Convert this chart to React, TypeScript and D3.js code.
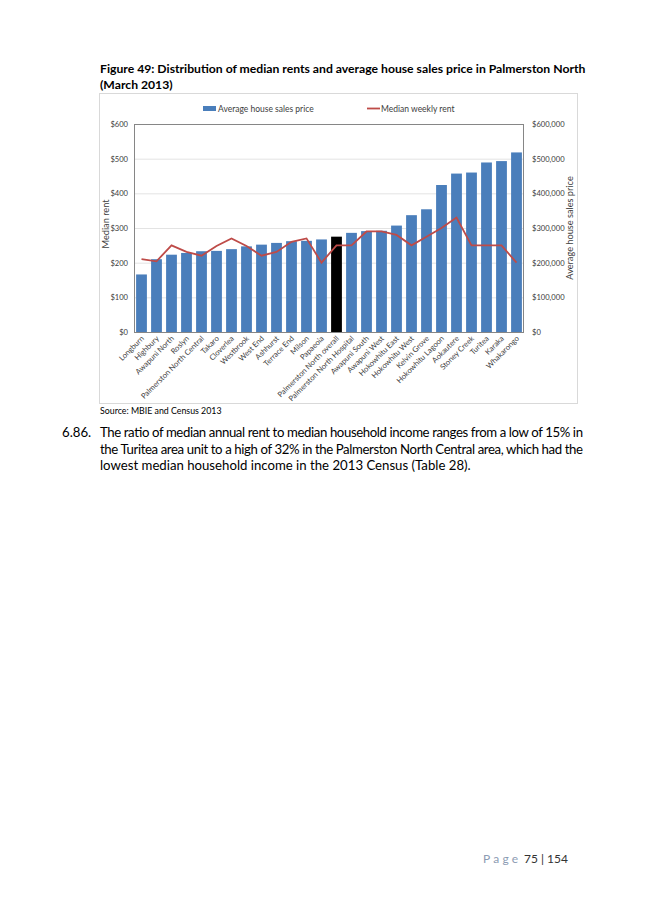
import React, { useRef, useEffect } from 'react';
import * as d3 from 'd3';

const areas = [
  'Longburn', 'Highbury', 'Awapuni North', 'Roslyn', 'Palmerston North Central',
  'Takaro', 'Cloverlea', 'Westbrook', 'West End', 'Ashhurst', 'Terrace End',
  'Milson', 'Papaeoia', 'Palmerston North overall', 'Palmerston North Hospital',
  'Awapuni South', 'Awapuni West', 'Hokowhitu East', 'Hokowhitu West',
  'Kelvin Grove', 'Hokowhitu Lagoon', 'Aokautere', 'Stoney Creek', 'Turitea',
  'Karaka', 'Whakarongo',
];

// average house sales price ($)
const housePrice = [
  166000, 210000, 223000, 228000, 233000, 234000, 239000, 247000, 252000,
  257000, 262000, 263000, 267000, 275000, 286000, 291000, 292000, 307000,
  337000, 354000, 424000, 457000, 460000, 489000, 493000, 518000,
];

// median weekly rent ($)
const medianRent = [
  210, 204, 250, 231, 220, 248, 270, 248, 220, 231, 260, 270, 200, 250, 250,
  290, 290, 280, 250, 275, 300, 330, 250, 250, 250, 200,
];

const rentTicks = [0, 100, 200, 300, 400, 500, 600];
const priceTicks = [0, 100000, 200000, 300000, 400000, 500000, 600000];

const paragraph = [
  'The ratio of median annual rent to median household income ranges from a low of 15% in',
  'the Turitea area unit to a high of 32% in the Palmerston North Central area, which had the',
  'lowest median household income in the 2013 Census (Table 28).',
];

const FONT = 'Lato, "Open Sans", sans-serif';
const BLUE = '#4a7ebb';
const RED = '#be4b48';

const App: React.FC = () => {
  const ref = useRef<SVGSVGElement>(null);

  useEffect(() => {
    const svg = d3.select(ref.current);
    svg.selectAll('*').remove();

    const left = 134, right = 524, top = 124, bottom = 332;

    // title
    svg.append('text').attr('x', 100).attr('y', 73)
      .attr('font-family', FONT).attr('font-weight', 'bold').attr('font-size', 12.2)
      .attr('fill', '#000')
      .text('Figure 49: Distribution of median rents and average house sales price in Palmerston North');
    svg.append('text').attr('x', 100).attr('y', 89)
      .attr('font-family', FONT).attr('font-weight', 'bold').attr('font-size', 12.2)
      .text('(March 2013)');

    // chart frame
    svg.append('rect').attr('x', 99.5).attr('y', 93.5).attr('width', 478).attr('height', 310)
      .attr('fill', '#fff').attr('stroke', '#d9d9d9');

    const x = d3.scaleBand<string>().domain(areas).range([left, right]).paddingInner(0.28).paddingOuter(0.14);
    const yRent = d3.scaleLinear().domain([0, 600]).range([bottom, top]);
    const yPrice = d3.scaleLinear().domain([0, 600000]).range([bottom, top]);

    // gridlines
    svg.append('g').selectAll('line').data(rentTicks.slice(1, -1)).join('line')
      .attr('x1', left).attr('x2', right)
      .attr('y1', (d) => yRent(d) + 0.5).attr('y2', (d) => yRent(d) + 0.5)
      .attr('stroke', '#e3e3e3');

    // bars
    svg.append('g').selectAll('rect').data(areas).join('rect')
      .attr('x', (d) => x(d)!)
      .attr('width', x.bandwidth())
      .attr('y', (_d, i) => yPrice(housePrice[i]))
      .attr('height', (_d, i) => bottom - yPrice(housePrice[i]))
      .attr('fill', (d) => (d === 'Palmerston North overall' ? '#000' : BLUE));

    // rent line
    const line = d3.line<number>()
      .x((_d, i) => x(areas[i])! + x.bandwidth() / 2)
      .y((d) => yRent(d));
    svg.append('path').datum(medianRent).attr('d', line)
      .attr('fill', 'none').attr('stroke', RED).attr('stroke-width', 1.8);

    // plot border
    svg.append('rect').attr('x', left + 0.5).attr('y', top + 0.5)
      .attr('width', right - left - 1).attr('height', bottom - top)
      .attr('fill', 'none').attr('stroke', '#868686');

    // left axis
    const gl = svg.append('g').attr('transform', `translate(${left},0)`)
      .call(d3.axisLeft(yRent).tickValues(rentTicks).tickSize(0).tickPadding(6).tickFormat((d) => `$${d}`));
    gl.select('.domain').remove();
    gl.selectAll('text').attr('font-family', FONT).attr('font-size', 7.6).attr('fill', '#404040');

    // right axis
    const gr = svg.append('g').attr('transform', `translate(${right},0)`)
      .call(d3.axisRight(yPrice).tickValues(priceTicks).tickSize(0).tickPadding(8)
        .tickFormat((d) => `$${d3.format(',')(d as number)}`));
    gr.select('.domain').remove();
    gr.selectAll('text').attr('font-family', FONT).attr('font-size', 7.6).attr('fill', '#404040');

    // x labels
    svg.append('g').selectAll('text').data(areas).join('text')
      .attr('transform', (d) => `translate(${x(d)! + x.bandwidth() / 2 + 3},${bottom + 7}) rotate(-45)`)
      .attr('text-anchor', 'end')
      .attr('font-family', FONT).attr('font-size', 7.6).attr('fill', '#404040')
      .text((d) => d);

    // axis titles
    svg.append('text').attr('transform', `translate(109,${(top + bottom) / 2 - 4}) rotate(-90)`)
      .attr('text-anchor', 'middle').attr('font-family', FONT).attr('font-size', 9.2).attr('fill', '#404040')
      .text('Median rent');
    svg.append('text').attr('transform', `translate(573,${(top + bottom) / 2}) rotate(-90)`)
      .attr('text-anchor', 'middle').attr('font-family', FONT).attr('font-size', 9.2).attr('fill', '#404040')
      .text('Average house sales price');

    // legend
    svg.append('rect').attr('x', 203).attr('y', 106).attr('width', 13).attr('height', 5).attr('fill', BLUE);
    svg.append('text').attr('x', 218).attr('y', 111.5).attr('font-family', FONT).attr('font-size', 8.5)
      .attr('fill', '#404040').text('Average house sales price');
    svg.append('line').attr('x1', 367).attr('x2', 380).attr('y1', 108.5).attr('y2', 108.5)
      .attr('stroke', RED).attr('stroke-width', 1.8);
    svg.append('text').attr('x', 381).attr('y', 111.5).attr('font-family', FONT).attr('font-size', 8.5)
      .attr('fill', '#404040').text('Median weekly rent');

    // source
    svg.append('text').attr('x', 100).attr('y', 414).attr('font-family', FONT).attr('font-size', 8.8)
      .text('Source: MBIE and Census 2013');

    // paragraph
    svg.append('text').attr('x', 62).attr('y', 437).attr('font-family', FONT).attr('font-size', 13.2)
      .text('6.86.');
    svg.append('g').selectAll('text').data(paragraph).join('text')
      .attr('x', 100).attr('y', (_d, i) => 437 + i * 16.5)
      .attr('font-family', FONT).attr('font-size', 13.2)
      .attr('textLength', (_d, i) => (i < 2 ? 483 : null))
      .attr('lengthAdjust', 'spacing')
      .text((d) => d);

    // footer
    svg.append('text').attr('x', 483).attr('y', 863).attr('font-family', FONT).attr('font-size', 12)
      .attr('fill', '#8c9bb3').attr('letter-spacing', 3.2).text('Page');
    svg.append('text').attr('x', 524).attr('y', 863).attr('font-family', FONT).attr('font-size', 12)
      .attr('fill', '#333').text('75 | 154');
  }, []);

  return (
    <svg ref={ref} width={645} height={912}
      style={{ position: 'absolute', left: 0, top: 0, background: '#fff' }} />
  );
};

export default App;
